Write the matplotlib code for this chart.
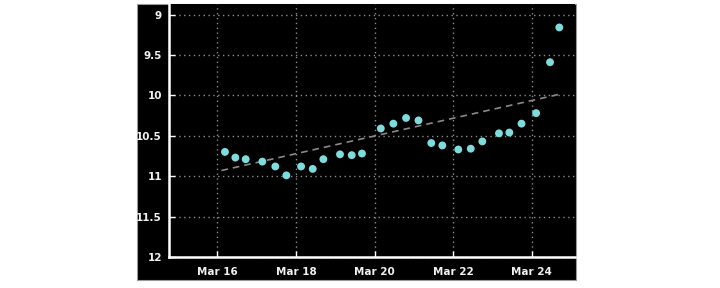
import matplotlib
matplotlib.use("Agg")
import matplotlib.pyplot as plt
import numpy as np
import pandas as pd
from matplotlib.patches import Rectangle

times = ["2020-03-16 04:40", "2020-03-16 11:00", "2020-03-16 17:20", "2020-03-17 03:30",
         "2020-03-17 11:25", "2020-03-17 18:10", "2020-03-18 03:10", "2020-03-18 10:15",
         "2020-03-18 16:45", "2020-03-19 02:55", "2020-03-19 10:05", "2020-03-19 16:20",
         "2020-03-20 03:50", "2020-03-20 11:30", "2020-03-20 19:15", "2020-03-21 02:50",
         "2020-03-21 10:40", "2020-03-21 17:25", "2020-03-22 03:10", "2020-03-22 10:45",
         "2020-03-22 17:50", "2020-03-23 04:00", "2020-03-23 10:20", "2020-03-23 17:45",
         "2020-03-24 02:40", "2020-03-24 11:10", "2020-03-24 16:50"]
values = [10.70, 10.77, 10.79, 10.82, 10.88, 10.99, 10.88, 10.91, 10.79, 10.73, 10.74,
          10.72, 10.41, 10.35, 10.28, 10.31, 10.59, 10.62, 10.67, 10.66, 10.57, 10.47,
          10.46, 10.35, 10.22, 9.59, 9.16]
trend_times = ["2020-03-16 02:30", "2020-03-24 17:20"]
trend_values = [10.93, 9.985]
yticks = [9, 9.5, 10, 10.5, 11, 11.5, 12]
ytick_labels = ["9", "9.5", "10", "10.5", "11", "11.5", "12"]
xticks = ["2020-03-16", "2020-03-18", "2020-03-20", "2020-03-22", "2020-03-24"]
xtick_labels = ["Mar 16", "Mar 18", "Mar 20", "Mar 22", "Mar 24"]

t = pd.to_datetime(times)
tt = pd.to_datetime(trend_times)

fig = plt.figure(figsize=(7.2, 2.88), dpi=100, facecolor="white")
bg = Rectangle((137/720, 8/288), (576-137)/720, (284-8)/288,
               transform=fig.transFigure, facecolor="black",
               edgecolor="#9a9a9a", linewidth=0.8, zorder=-10)
fig.add_artist(bg)
ax = fig.add_axes([169/720, 31/288, (575-169)/720, (284-31)/288])
ax.set_zorder(5)
ax.set_facecolor("black")

ax.plot(tt, trend_values, linestyle=(0, (4, 3)), color="#8a8a8a", linewidth=1.2, zorder=2)
ax.scatter(t, values, s=32, color="#7fdcdc", edgecolors="none", zorder=3)

ax.set_ylim(12, 8.87)
ax.set_xlim(pd.Timestamp("2020-03-14 18:30"), pd.Timestamp("2020-03-25 02:25"))
ax.set_yticks(yticks)
ax.set_yticklabels(ytick_labels)
ax.set_xticks(pd.to_datetime(xticks))
ax.set_xticklabels(xtick_labels)

ax.grid(True, color="#8c8c8c", linestyle=(0, (1, 2.5)), linewidth=1.0)
for s in ["top", "right"]:
    ax.spines[s].set_visible(False)
for s in ["left", "bottom"]:
    ax.spines[s].set_color("white")
    ax.spines[s].set_linewidth(1.8)
ax.tick_params(axis="both", direction="in", colors="white", length=4, width=1,
               labelsize=7.5)
ax.tick_params(axis="x", pad=7)
ax.tick_params(axis="y", pad=5)
for lab in ax.get_xticklabels() + ax.get_yticklabels():
    lab.set_fontweight("bold")
    lab.set_color("#f0f0f0")

fig.savefig("out.png", dpi=100, facecolor="white")
